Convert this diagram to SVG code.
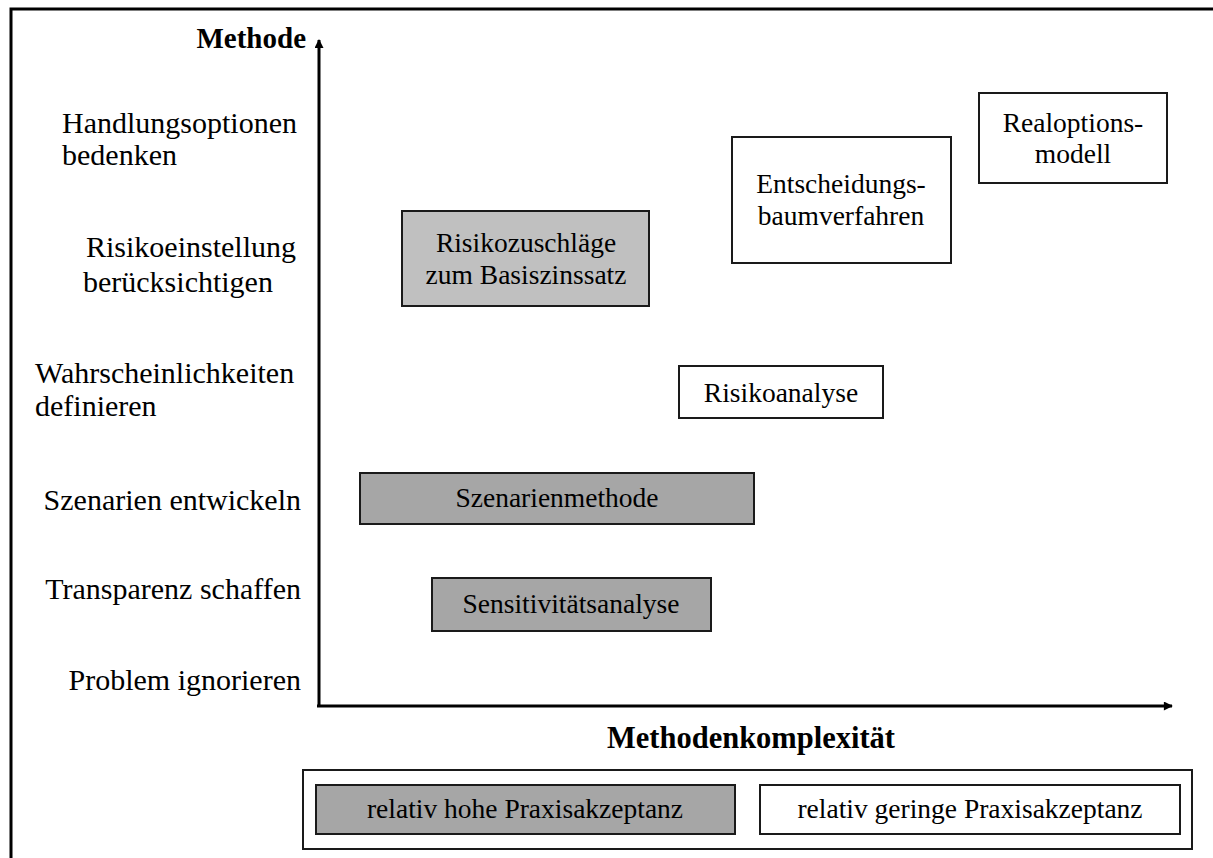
<svg xmlns="http://www.w3.org/2000/svg" width="1213" height="858" viewBox="0 0 1213 858">
  <style>
    text { font-family: "Liberation Serif", serif; fill: #000; }
    .lbl { font-size: 30px; }
    .box { font-size: 27.5px; text-anchor: middle; }
    .leg { font-size: 27.5px; text-anchor: middle; }
    .axis-title { font-weight: bold; }
    .node { stroke: #1a1a1a; stroke-width: 2; }
    .white { fill: #ffffff; }
    .light { fill: #c0c0c0; }
    .dark { fill: #a6a6a6; }
    .axis { stroke: #000; stroke-width: 3; fill: none; }
  </style>
  <defs>
    <marker id="arrow" viewBox="0 0 10 10" refX="9" refY="5" markerWidth="3.4" markerHeight="3" orient="auto" markerUnits="strokeWidth">
      <path d="M0,0 L10,5 L0,10 z" fill="#000"/>
    </marker>
  </defs>

  <rect width="1213" height="858" fill="#ffffff"/>
  <!-- outer frame -->
  <rect x="11" y="9" width="1230" height="880" fill="none" stroke="#000" stroke-width="3"/>

  <!-- axes -->
  <g id="connectors">
    <line class="axis" x1="319" y1="707" x2="319" y2="40" marker-end="url(#arrow)"/>
    <line class="axis" x1="317" y1="706" x2="1172" y2="706" marker-end="url(#arrow)"/>
  </g>

  <!-- axis titles -->
  <text class="axis-title" x="306" y="48" text-anchor="end" style="font-size:29px">Methode</text>
  <text class="axis-title" x="751" y="748" text-anchor="middle" style="font-size:30.5px">Methodenkomplexität</text>

  <!-- y-axis category labels -->
  <g id="labels">
    <text class="lbl" x="62" y="133">Handlungsoptionen</text>
    <text class="lbl" x="62" y="165">bedenken</text>
    <text class="lbl" x="86" y="257">Risikoeinstellung</text>
    <text class="lbl" x="83" y="292">berücksichtigen</text>
    <text class="lbl" x="35" y="383">Wahrscheinlichkeiten</text>
    <text class="lbl" x="35" y="416">definieren</text>
    <text class="lbl" x="301" y="510" text-anchor="end">Szenarien entwickeln</text>
    <text class="lbl" x="301" y="599" text-anchor="end">Transparenz schaffen</text>
    <text class="lbl" x="301" y="690" text-anchor="end">Problem ignorieren</text>
  </g>

  <!-- method boxes -->
  <g id="realoptionsmodell">
    <rect class="node white" x="979" y="93" width="188" height="90"/>
    <text class="box" x="1073" y="132">Realoptions-</text>
    <text class="box" x="1073" y="163">modell</text>
  </g>
  <g id="entscheidungsbaumverfahren">
    <rect class="node white" x="732" y="137" width="219" height="126"/>
    <text class="box" x="841" y="193">Entscheidungs-</text>
    <text class="box" x="841" y="225">baumverfahren</text>
  </g>
  <g id="risikozuschlaege">
    <rect class="node light" x="402" y="211" width="247" height="95"/>
    <text class="box" x="526" y="252">Risikozuschläge</text>
    <text class="box" x="526" y="284">zum Basiszinssatz</text>
  </g>
  <g id="risikoanalyse">
    <rect class="node white" x="679" y="366" width="204" height="52"/>
    <text class="box" x="781" y="402">Risikoanalyse</text>
  </g>
  <g id="szenarienmethode">
    <rect class="node dark" x="360" y="473" width="394" height="51"/>
    <text class="box" x="557" y="507">Szenarienmethode</text>
  </g>
  <g id="sensitivitaetsanalyse">
    <rect class="node dark" x="432" y="578" width="279" height="53"/>
    <text class="box" x="571" y="613">Sensitivitätsanalyse</text>
  </g>

  <!-- legend -->
  <g id="legend">
    <rect class="node white" x="303" y="770" width="889" height="79"/>
    <rect class="node dark" x="316" y="785" width="419" height="49"/>
    <text class="leg" x="525" y="818">relativ hohe Praxisakzeptanz</text>
    <rect class="node white" x="760" y="785" width="420" height="49"/>
    <text class="leg" x="970" y="818">relativ geringe Praxisakzeptanz</text>
  </g>
</svg>
